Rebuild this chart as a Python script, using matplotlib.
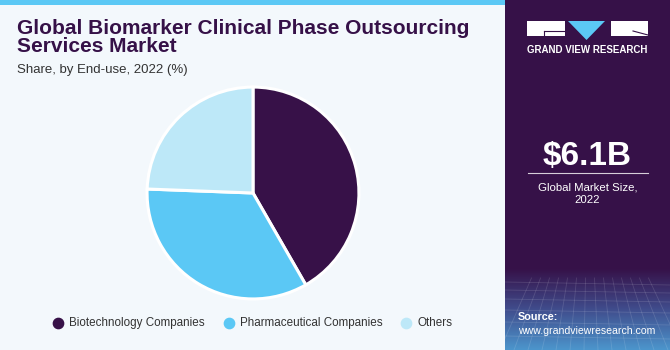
import numpy as np
import matplotlib.pyplot as plt
from matplotlib.patches import Rectangle, Polygon
from matplotlib.colors import LinearSegmentedColormap

# Data
labels = ["Biotechnology Companies", "Pharmaceutical Companies", "Others"]
shares = [41.7, 33.9, 24.4]
colors = ["#371148", "#5BC8F5", "#BDE8F8"]

title = "Global Biomarker Clinical Phase Outsourcing\nServices Market"
subtitle = "Share, by End-use, 2022 (%)"
market_size = "$6.1B"
market_label = "Global Market Size,\n2022"

W, H = 670, 350
fig = plt.figure(figsize=(W / 100, H / 100), dpi=100)
fig.patch.set_facecolor("#F3F8FC")

# background canvas in pixel coords
bg = fig.add_axes([0, 0, 1, 1])
bg.set_xlim(0, W)
bg.set_ylim(H, 0)
bg.axis("off")

# top accent bar
bg.add_patch(Rectangle((0, 0), 505, 5, color="#5BC8F5", lw=0))

# right panel
bg.add_patch(Rectangle((505, 0), 165, 350, color="#361148", lw=0))
grad = np.linspace(0, 1, 100)[:, None]
cmap = LinearSegmentedColormap.from_list("g", ["#361148", "#404C8C", "#4C95CC"])
bg.imshow(grad, extent=(505, 670, 350, 268), cmap=cmap, aspect="auto", zorder=1)
# faint perspective grid on the gradient
for i in range(14):
    x0 = 500 + i * 14
    bg.plot([x0, 560 + (i - 6.5) * 9 + 30], [350, 278], color="white", alpha=0.13, lw=0.6, zorder=2)
for yy in [282, 290, 299, 310, 322, 336]:
    bg.plot([505, 670], [yy, yy + 3], color="white", alpha=0.13, lw=0.6, zorder=2)

# logo
bg.add_patch(Rectangle((527, 21), 38, 15, color="white", lw=0, zorder=3))
bg.add_patch(Rectangle((611, 21), 37, 15, color="white", lw=0, zorder=3))
bg.add_patch(Polygon([(568, 21), (605, 21), (586.5, 40)], color="#5BC8F5", lw=0, zorder=3))
bg.plot([544, 565], [31, 31], color="#361148", lw=0.8, zorder=4)
bg.plot([544, 544], [31, 36], color="#361148", lw=0.8, zorder=4)
bg.plot([633, 648], [31, 35], color="#361148", lw=0.8, zorder=4)
bg.text(587.5, 50, "GRAND VIEW RESEARCH", color="white", fontsize=7, fontweight="bold",
        ha="center", va="center", family="Liberation Sans", zorder=4)

# market size
bg.text(587.5, 156, market_size, color="white", fontsize=24, fontweight="bold",
        ha="center", va="center", family="Liberation Sans", zorder=4)
bg.plot([528, 648], [173, 173], color="white", lw=0.8, alpha=0.8, zorder=4)
bg.text(587.5, 194, market_label, color="white", fontsize=8.2, ha="center", va="center",
        family="Liberation Sans", linespacing=1.25, zorder=4)

# source
bg.text(518, 317, "Source:", color="white", fontsize=7.8, fontweight="bold", ha="left",
        va="center", family="Liberation Sans", zorder=4)
bg.text(518, 331, "www.grandviewresearch.com", color="white", fontsize=7.6, ha="left",
        va="center", family="Liberation Sans", zorder=4)

# title block
bg.text(17, 19, title, color="#361148", fontsize=15, fontweight="bold", ha="left", va="top",
        family="Liberation Sans", linespacing=0.92)
bg.text(17, 70, subtitle, color="#333333", fontsize=9.5, ha="left", va="center",
        family="Liberation Sans")

# pie
ax = fig.add_axes([146 / W, (H - 300) / H, 214 / W, 214 / H])
ax.pie(shares, colors=colors, startangle=90, counterclock=False,
       wedgeprops=dict(edgecolor="white", linewidth=2.2))
ax.set_xlim(-1.01, 1.01)
ax.set_ylim(-1.01, 1.01)
ax.set_aspect("equal")

# legend
legend_x = [58, 229, 406]
for x, lab, c in zip(legend_x, labels, colors):
    bg.scatter([x], [323], s=55, color=c, zorder=4)
    bg.text(x + 11, 323, lab, color="#333333", fontsize=8.4, ha="left", va="center",
            family="Liberation Sans")

fig.savefig("out.png", dpi=100, facecolor=fig.get_facecolor())
